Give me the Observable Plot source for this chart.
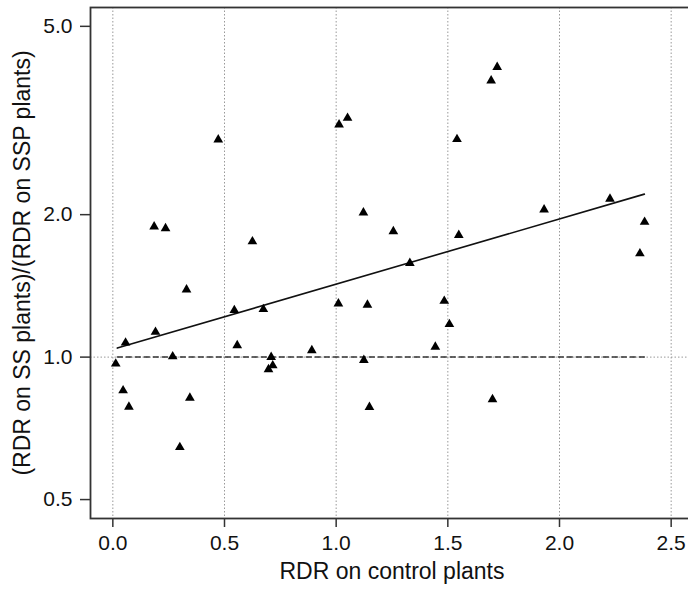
<!DOCTYPE html>
<html>
<head>
<meta charset="utf-8">
<script src="https://cdn.jsdelivr.net/npm/d3@7"></script>
<script src="https://cdn.jsdelivr.net/npm/@observablehq/plot@0.6"></script>
<style>
  html, body { margin: 0; padding: 0; background: #fff; overflow: hidden; }
  #chart svg { font-family: "Liberation Sans", Arial, Helvetica, sans-serif; display: block; }
</style>
</head>
<body>
<div id="chart"></div>
<script>
// RDR on control plants (x) and ratio (y)
const rdrControl = [0.013, 0.046, 0.057, 0.072, 0.185, 0.191, 0.236, 0.268, 0.300, 0.330,
  0.345, 0.472, 0.544, 0.557, 0.625, 0.674, 0.697, 0.709, 0.716, 0.891,
  1.010, 1.013, 1.051, 1.122, 1.124, 1.140, 1.149, 1.256, 1.330, 1.444,
  1.484, 1.507, 1.541, 1.549, 1.694, 1.700, 1.721, 1.931, 2.226, 2.360, 2.381];
const rdrRatio = [0.968, 0.850, 1.072, 0.785, 1.886, 1.130, 1.870, 1.003, 0.645, 1.389,
  0.820, 2.880, 1.256, 1.059, 1.755, 1.262, 0.942, 1.000, 0.960, 1.033,
  1.297, 3.100, 3.200, 2.020, 0.985, 1.289, 0.784, 1.843, 1.580, 1.051,
  1.314, 1.173, 2.886, 1.810, 3.840, 0.814, 4.100, 2.050, 2.160, 1.655, 1.930];
// fitted regression line (log scale) endpoints
const fitX = [0.02, 2.38];
const fitY = [1.045, 2.21];
// reference line y = 1
const refX = [0.02, 2.38];
const refY = [1, 1];
const xTicks = [0, 0.5, 1.0, 1.5, 2.0, 2.5];
const yTicks = [0.5, 1.0, 2.0, 5.0];
const xTitle = "RDR on control plants";
const yTitle = "(RDR on SS plants)/(RDR on SSP plants)";

const points = rdrControl.map((x, i) => ({x, y: rdrRatio[i]}));
const fit = fitX.map((x, i) => ({x, y: fitY[i]}));
const ref = refX.map((x, i) => ({x, y: refY[i]}));

const chart = Plot.plot({
  width: 688,
  height: 598,
  marginLeft: 90,
  marginRight: -5,
  marginTop: 7,
  marginBottom: 80,
  style: {fontFamily: '"Liberation Sans", Arial, sans-serif', fontSize: "21px", background: "#fff", overflow: "visible"},
  x: {domain: [-0.1, 2.6]},
  y: {type: "log", domain: [0.456, 5.48]},
  marks: [
    Plot.gridX(xTicks, {stroke: "#999", strokeOpacity: 1, strokeWidth: 1, strokeDasharray: "1.5,2"}),
    Plot.gridY([1], {stroke: "#999", strokeOpacity: 1, strokeWidth: 1, strokeDasharray: "1.5,2"}),
    Plot.line(ref, {x: "x", y: "y", stroke: "#333", strokeWidth: 1.5, strokeDasharray: "5,4"}),
    Plot.line(fit, {x: "x", y: "y", stroke: "#111", strokeWidth: 1.6}),
    Plot.dot(points, {x: "x", y: "y", symbol: "triangle", r: 3.6, fill: "#000", stroke: "none"}),
    Plot.frame({stroke: "#333", strokeWidth: 1.8}),
    Plot.axisX(xTicks, {tickFormat: d3.format(".1f"), tickSize: 9, tickPadding: 8, fontSize: 21, stroke: "#333", strokeWidth: 1.5, color: "#111", label: null}),
    Plot.axisY(yTicks, {tickFormat: d3.format(".1f"), tickSize: 10, tickPadding: 8, fontSize: 21, stroke: "#333", strokeWidth: 1.5, color: "#111", label: null}),
    Plot.text([xTitle], {frameAnchor: "bottom", dy: 60, text: d => d, fontSize: 23, fill: "#111"}),
    Plot.text([yTitle], {frameAnchor: "left", dx: -68, rotate: -90, textAnchor: "middle", text: d => d, fontSize: 23, fill: "#111"})
  ]
});
document.getElementById("chart").appendChild(chart);
</script>
</body>
</html>
